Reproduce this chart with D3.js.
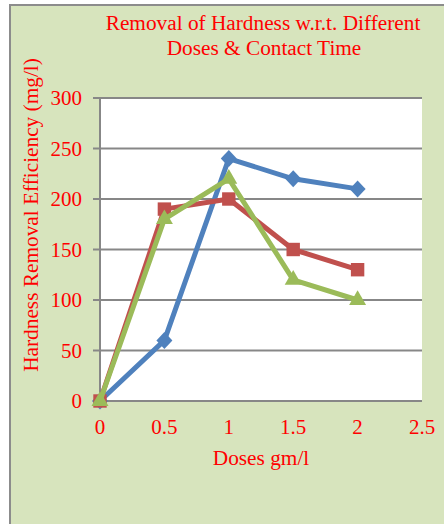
<!DOCTYPE html>
<meta charset="utf-8">
<style>
body { margin: 0; background: #fff; }
text { font-family: "Liberation Serif", "Times New Roman", serif; fill: #ff0000; }
.grid line { stroke: #878787; stroke-width: 2; }
</style>
<body>
<svg width="444" height="524"></svg>
<script src="https://cdn.jsdelivr.net/npm/d3@7"></script>
<script>
// data
var doses = [0, 0.5, 1, 1.5, 2];
var seriesA = [0, 60, 240, 220, 210];
var seriesB = [0, 190, 200, 150, 130];
var seriesC = [0, 180, 220, 120, 100];
var xTicks = [0, 0.5, 1, 1.5, 2, 2.5];
var yTicks = [0, 50, 100, 150, 200, 250, 300];

var svg = d3.select("svg");

// outer panel
svg.append("rect")
    .attr("x", 10).attr("y", 5)
    .attr("width", 444).attr("height", 530)
    .attr("fill", "#d7e4bd")
    .attr("stroke", "#8c8c8c")
    .attr("stroke-width", 2);

var x = d3.scaleLinear().domain([0, 2.5]).range([100, 422]);
var y = d3.scaleLinear().domain([0, 300]).range([401, 98]);

svg.append("rect")
    .attr("x", x(0)).attr("y", y(300))
    .attr("width", x(2.5) - x(0)).attr("height", y(0) - y(300))
    .attr("fill", "#fff");

// gridlines
svg.append("g").attr("class", "grid")
  .selectAll("line")
  .data(yTicks)
  .enter().append("line")
    .attr("x1", x(0) - 7)
    .attr("x2", x(2.5))
    .attr("y1", function(d) { return y(d); })
    .attr("y2", function(d) { return y(d); });

svg.append("line")
    .attr("x1", x(0)).attr("x2", x(0))
    .attr("y1", y(300)).attr("y2", y(0))
    .attr("stroke", "#878787").attr("stroke-width", 2);

// tick labels
svg.append("g")
  .selectAll("text")
  .data(yTicks)
  .enter().append("text")
    .attr("x", x(0) - 18)
    .attr("y", function(d) { return y(d); })
    .attr("dy", "0.35em")
    .attr("text-anchor", "end")
    .attr("font-size", 21)
    .text(function(d) { return d; });

svg.append("g")
  .selectAll("text")
  .data(xTicks)
  .enter().append("text")
    .attr("x", function(d) { return x(d); })
    .attr("y", 434)
    .attr("text-anchor", "middle")
    .attr("font-size", 21)
    .text(function(d) { return d; });

// titles
var title = svg.append("text")
    .attr("text-anchor", "middle")
    .attr("font-size", 21.3);
title.append("tspan").attr("x", 263).attr("y", 30).text("Removal of Hardness w.r.t. Different");
title.append("tspan").attr("x", 264).attr("y", 55).text("Doses & Contact Time");

svg.append("text")
    .attr("text-anchor", "middle")
    .attr("font-size", 21.3)
    .attr("transform", "translate(38,215) rotate(-90)")
    .text("Hardness Removal Efficiency (mg/l)");

svg.append("text")
    .attr("x", 261).attr("y", 465)
    .attr("text-anchor", "middle")
    .attr("font-size", 21.3)
    .text("Doses gm/l");

// wide diamond like the spreadsheet marker
var wideDiamond = {
  draw: function(ctx, size) {
    var w = 8, h = 8.5;
    ctx.moveTo(0, -h); ctx.lineTo(w, 0); ctx.lineTo(0, h); ctx.lineTo(-w, 0); ctx.closePath();
  }
};

var series = [
  { values: seriesA, color: "#4f81bd", symbol: wideDiamond, size: 1 },
  { values: seriesB, color: "#c0504d", symbol: d3.symbolSquare, size: 180 },
  { values: seriesC, color: "#9bbb59", symbol: d3.symbolTriangle, size: 125 }
];

var line = d3.line()
    .x(function(d, i) { return x(doses[i]); })
    .y(function(d) { return y(d); });

series.forEach(function(s) {
  var g = svg.append("g");
  g.append("path")
      .attr("d", line(s.values))
      .attr("fill", "none")
      .attr("stroke", s.color)
      .attr("stroke-width", 5)
      .attr("stroke-linejoin", "round");
  g.selectAll("path.m")
    .data(s.values)
    .enter().append("path")
      .attr("class", "m")
      .attr("transform", function(d, i) {
        return "translate(" + x(doses[i]) + "," + y(d) + ")";
      })
      .attr("d", d3.symbol().type(s.symbol).size(s.size))
      .attr("fill", s.color);
});
</script>
</body>
